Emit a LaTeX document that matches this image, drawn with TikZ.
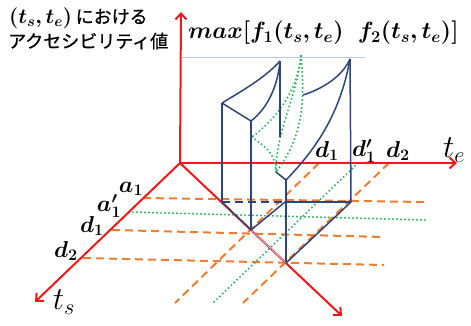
\RequirePackage{fix-cm}
\documentclass[tikz,border=0pt]{standalone}
\usepackage{fontspec}
\usepackage{amsmath,bm}
\newfontfamily\jp[FakeBold=0.8]{Noto Sans CJK JP}
\usetikzlibrary{arrows.meta}
\definecolor{axisred}{HTML}{F01818}
\definecolor{dorange}{HTML}{ED7D31}
\definecolor{dgreen}{HTML}{2EAF5A}
\definecolor{navy}{HTML}{2F4577}
\definecolor{lblue}{HTML}{B4C7E7}
\begin{document}
\begin{tikzpicture}[x=1pt,y=-1pt,
  axis/.style={draw=axisred, line width=2pt, -{Straight Barb[length=6pt,width=11pt]}},
  odash/.style={draw=dorange, line width=2pt, dash pattern=on 8pt off 5pt},
  gdot/.style={draw=dgreen, line width=2.2pt, dash pattern=on 0pt off 4pt, line cap=round},
  edge/.style={draw=navy, line width=1.5pt},
  hidden/.style={draw=navy, line width=1.5pt, dash pattern=on 8pt off 5pt},
  lbl/.style={inner sep=0pt, font=\fontsize{23}{27}\selectfont},
  axlbl/.style={inner sep=0pt, font=\fontsize{32}{36}\selectfont}
]
\useasboundingbox (0,0) rectangle (471,325);
% axis points
\coordinate (O) at (180,163);
\coordinate (Ztip) at (181,12);
\coordinate (Etip) at (457,163);
\coordinate (Stip) at (35,302);
\coordinate (Dtip) at (342,316);
% ts-axis ticks
\coordinate (sa1) at (143,198);  \coordinate (ea1) at (425,202);
\coordinate (sa1p) at (129,212); \coordinate (ea1p) at (425,220);
\coordinate (sd1) at (112,230);  \coordinate (ed1) at (384,237);
\coordinate (sd2) at (83,258);   \coordinate (ed2) at (384,265);
% te-axis ticks
\coordinate (td1) at (319,163);  \coordinate (bd1) at (175,303);
\coordinate (td1p) at (358,163); \coordinate (bd1p) at (213,303);
\coordinate (td2) at (389,163);  \coordinate (bd2) at (243,303);
% guide line
\coordinate (gl) at (182,57); \coordinate (gr) at (365,57);
\draw[lblue, line width=0.8pt] (gl) -- (gr);
% base grid lines
\draw[odash] (sa1) -- (ea1);
\draw[gdot] (sa1p) -- (ea1p);
\draw[odash] (sd1) -- (ed1);
\draw[odash] (sd2) -- (ed2);
\draw[odash] (td1) -- (bd1);
\draw[gdot] (td1p) -- (bd1p);
\draw[odash] (td2) -- (bd2);
% red axes
\draw[axis] (O) -- (Ztip);
\draw[axis] (O) -- (Etip);
\draw[axis] (O) -- (Stip);
\draw[axis] (O) -- (Dtip);
% solid points
\coordinate (A) at (222,202);
\coordinate (B) at (251,230);
\coordinate (C) at (286,263);
\coordinate (D) at (351,202);
\coordinate (E) at (285,202);
\coordinate (At) at (222,103);
\coordinate (Bt) at (251,121);
\coordinate (Et) at (280,61);
\coordinate (Eb) at (280,137);
\coordinate (Ct) at (286,180);
\coordinate (Dt) at (350,59);
\coordinate (V) at (276,172);
\coordinate (R) at (303,95);
\coordinate (G) at (301,56);
\coordinate (L) at (252,137);
% green dotted surfaces
\draw[gdot] (G) .. controls (297,95) and (272,122) .. (L);
\draw[gdot] (L) .. controls (265,147) and (275,152) .. (V);
\draw[gdot] (G) .. controls (296,100) and (276,130) .. (V);
\draw[gdot] (G) .. controls (306,110) and (300,140) .. (V);
% blue solid
\draw[edge] (A) -- (At);
\draw[edge] (B) -- (Bt);
\draw[edge] (C) -- (Ct);
\draw[edge] (D) -- (Dt);
\draw[edge] (Et) -- (Eb);
\draw[edge] (At) -- (Bt);
\draw[edge] (At) .. controls (240,92) and (265,78) .. (Et);
\draw[edge] (Bt) .. controls (268,108) and (278,85) .. (Et);
\draw[edge] (Ct) .. controls (315,150) and (340,115) .. (Dt);
\draw[edge] (R) .. controls (325,88) and (343,75) .. (Dt);
\draw[edge] (Ct) -- (V);
\draw[edge] (A) -- (B);
\draw[lblue, line width=0.8pt] (B) -- (C);
\draw[edge] (B) -- (E);
\draw[edge] (E) -- (D);
\draw[edge] (C) -- (D);
\draw[hidden] (A) -- (E);
% labels
\node[inner sep=0pt, anchor=west] (ylab1) at (9,18) {\fontsize{21}{24}\selectfont$\bm{(t_s,t_e)}$\,\fontsize{18}{22}\selectfont\jp における};
\node[inner sep=0pt, anchor=west, font=\fontsize{18}{22}\selectfont] (ylab2) at (8,41) {\jp アクセシビリティ値};
\node[inner sep=0pt, anchor=west, font=\fontsize{23.5}{27}\selectfont] (title) at (188,33) {$\bm{max}\bm{[}\bm{f_1}\bm{(t_s,t_e)}\ \ \bm{f_2}\bm{(t_s,t_e)}\bm{]}$};
\node[lbl] (la1) at (131,189) {$\bm{a_1}$};
\node[lbl] (la1p) at (109,206) {$\bm{a'_1}$};
\node[lbl] (ld1) at (92,226) {$\bm{d_1}$};
\node[lbl] (ld2) at (66,251) {$\bm{d_2}$};
\node[lbl] (te1) at (327,151) {$\bm{d_1}$};
\node[lbl] (te1p) at (364,151) {$\bm{d'_1}$};
\node[lbl] (te2) at (398,151) {$\bm{d_2}$};
\node[axlbl] (lte) at (454,150) {$t_e$};
\node[axlbl] (lts) at (64,302) {$t_s$};
\end{tikzpicture}
\end{document}
